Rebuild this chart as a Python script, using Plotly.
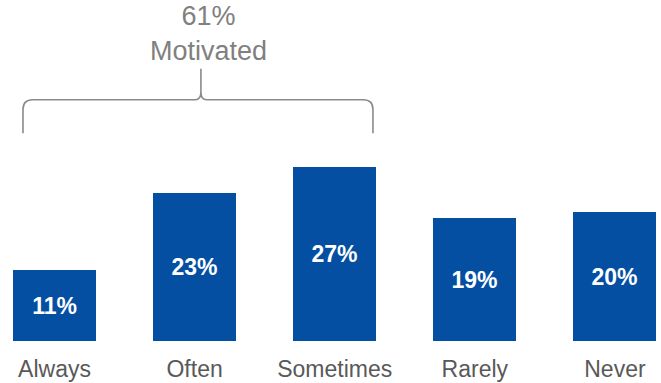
import plotly.graph_objects as go

categories = ["Always", "Often", "Sometimes", "Rarely", "Never"]
values = [11, 23, 27, 19, 20]
value_labels = ["11%", "23%", "27%", "19%", "20%"]
bracket_label = "61%<br>Motivated"

BAR_COLOR = "#044FA2"
AXIS_TEXT = "#595959"
BRACKET_GRAY = "#8A8A8A"
FONT = "Liberation Sans, Arial, sans-serif"

xs = list(range(len(categories)))

fig = go.Figure()
fig.add_trace(go.Bar(
    x=xs,
    y=values,
    width=0.593,
    marker=dict(color=BAR_COLOR, line=dict(width=0)),
    text=value_labels,
    textposition="inside",
    insidetextanchor="middle",
    textangle=0,
    textfont=dict(family=FONT, size=23, color="white", weight="bold"),
    hoverinfo="skip",
))

# Curly brace spanning the first three categories
x0, x1, xc = -0.225, 2.273, 1.045
yb, yh, yp = 32.2, 37.4, 42.2
rx, ry = 0.07, 1.5
crx, cry = 0.04, 1.2
path = (
    f"M {x0},{yb} L {x0},{yh - ry} Q {x0},{yh} {x0 + rx},{yh} "
    f"L {xc - crx},{yh} Q {xc},{yh} {xc},{yh + cry} L {xc},{yp} "
    f"M {xc},{yh + cry} Q {xc},{yh} {xc + crx},{yh} "
    f"L {x1 - rx},{yh} Q {x1},{yh} {x1},{yh - ry} L {x1},{yb}"
)
fig.add_shape(type="path", path=path, xref="x", yref="y",
              line=dict(color=BRACKET_GRAY, width=1.6))

fig.add_annotation(
    x=1.096, y=47.6, xref="x", yref="y",
    text=bracket_label, showarrow=False,
    xanchor="center", yanchor="middle",
    font=dict(family=FONT, size=27, color="#808080"),
)

fig.update_layout(
    width=661, height=383,
    margin=dict(l=0, r=0, t=0, b=42),
    paper_bgcolor="white", plot_bgcolor="white",
    showlegend=False,
    bargap=0,
)
fig.update_xaxes(
    range=[-0.389, 4.329],
    tickmode="array", tickvals=xs, ticktext=categories,
    ticks="outside", ticklen=7, tickcolor="rgba(0,0,0,0)",
    tickfont=dict(family=FONT, size=23, color=AXIS_TEXT),
    showline=False, showgrid=False, zeroline=False,
    automargin=False,
)
fig.update_yaxes(
    range=[0, 52.87], visible=False, showgrid=False, zeroline=False,
)

fig.write_html("out.html")
